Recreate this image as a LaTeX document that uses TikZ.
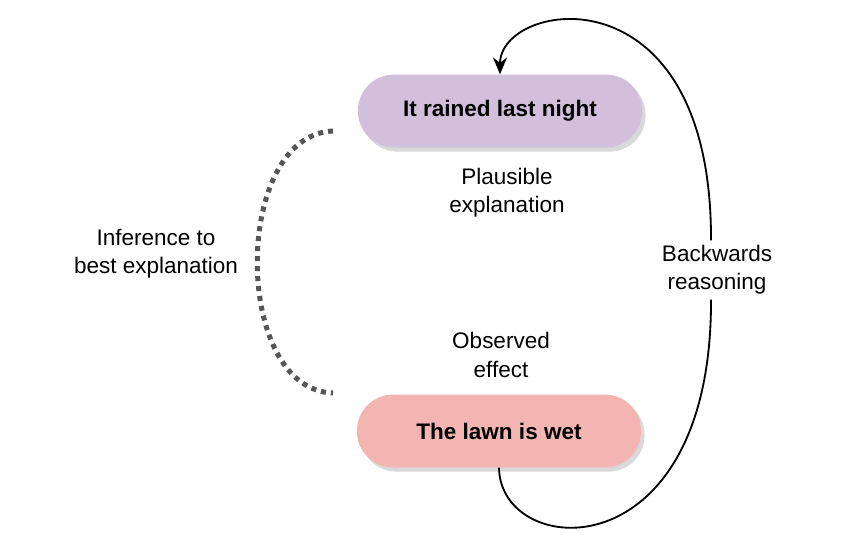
\documentclass[tikz,border=0pt]{standalone}
\usepackage{fontspec}
\setmainfont{Liberation Sans}
\usetikzlibrary{arrows.meta,shadows}
\definecolor{causefill}{RGB}{209,191,219}
\definecolor{effectfill}{RGB}{242,181,177}
\definecolor{dotgray}{RGB}{85,85,85}

\begin{document}
\begin{tikzpicture}[x=0.025cm, y=-0.025cm]
            \tikzstyle{pill} = [rounded corners=0.9cm, minimum width=7.1cm, minimum height=1.82cm,
                font=\fontsize{16}{18}\selectfont\bfseries,
                drop shadow={shadow xshift=2.5pt, shadow yshift=-3pt, opacity=0.3}]
            \tikzstyle{note} = [align=center, font=\fontsize{16}{20}\selectfont]
            \useasboundingbox (0, 0) rectangle (846, 539);
            % the two events
            \node[pill, fill=causefill] (rain) at (500, 111) {It rained last night};
            \node[pill, fill=effectfill] (wet) at (499, 431) {The lawn is wet};
            % captions
            \node[note] (plausible) at (507, 193) {Plausible\\explanation};
            \node[note] (observed) at (501, 355) {Observed\\effect};
            \node[note] (inference) at (156, 254) {Inference to\\best explanation};
            \node[note] (backwards) at (717, 270) {Backwards\\reasoning};
            % links
            \coordinate (dtop) at (333, 131);
            \coordinate (dbot) at (333, 393);
            \draw[dotgray, line width=0.125cm, dash pattern=on 0.125cm off 0.125cm]
                (dtop) .. controls (232, 135) and (232, 390) .. (dbot);
            \draw[line width=1.3pt] (wet.south) .. controls (500, 560) and (712, 575) .. ([xshift=-0.15cm]backwards.south);
            \draw[line width=1.3pt, -{Stealth[length=12pt, width=10pt]}] ([xshift=-0.15cm]backwards.north)
                .. controls (712, -35) and (500, 0) .. (rain.north);
        \end{tikzpicture}
\end{document}
